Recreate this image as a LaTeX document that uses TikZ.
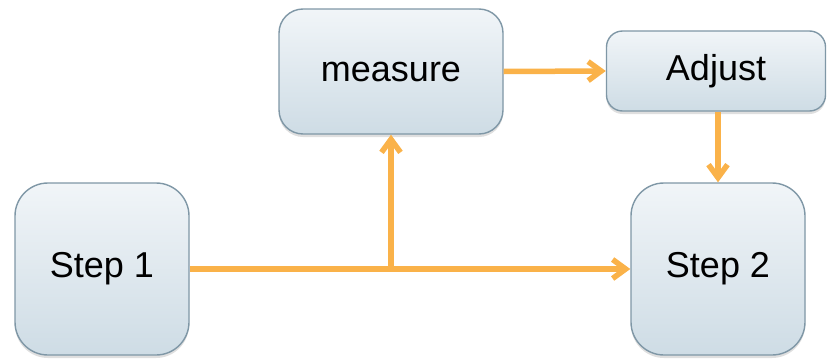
\documentclass[tikz,border=0pt]{standalone}
\usepackage{fontspec}
\setmainfont{Liberation Sans}
\usetikzlibrary{arrows.meta,shadows}
\definecolor{boxtop}{HTML}{F1F5F8}
\definecolor{boxbot}{HTML}{CEDCE5}
\definecolor{boxline}{HTML}{7F97A6}
\definecolor{flow}{HTML}{FAB249}
\tikzset{
  stepbox/.style={draw=boxline, line width=1.4pt, top color=boxtop, bottom color=boxbot,
    inner sep=0pt, font=\fontsize{36}{40}\selectfont,
    drop shadow={opacity=0.25, shadow xshift=0pt, shadow yshift=-3pt}},
  flowline/.style={draw=flow, line width=5.5pt, -{Straight Barb[length=13pt,width=19pt]}}
}
\begin{document}
\begin{tikzpicture}[x=1pt,y=-1pt]
\useasboundingbox (0,0) rectangle (827,359);
\node[stepbox, rounded corners=33pt, minimum width=174pt, minimum height=172pt] (s1) at (102,269) {Step 1};
\node[stepbox, rounded corners=24pt, minimum width=224pt, minimum height=125pt] (ms) at (391,71.5) {measure};
\node[stepbox, rounded corners=16pt, minimum width=219pt, minimum height=80pt] (adj) at (716,71) {Adjust};
\node[stepbox, rounded corners=33pt, minimum width=174pt, minimum height=172pt] (s2) at (718,269) {Step 2};
\coordinate (j) at (ms.south |- s1.east);
\draw[flowline] (s1.east) -- (s2.west);
\draw[flowline] (j) -- (ms.south);
\draw[flowline] (ms.east) -- (adj.west);
\draw[flowline] (s2.north |- adj.south) -- (s2.north);
\end{tikzpicture}
\end{document}
